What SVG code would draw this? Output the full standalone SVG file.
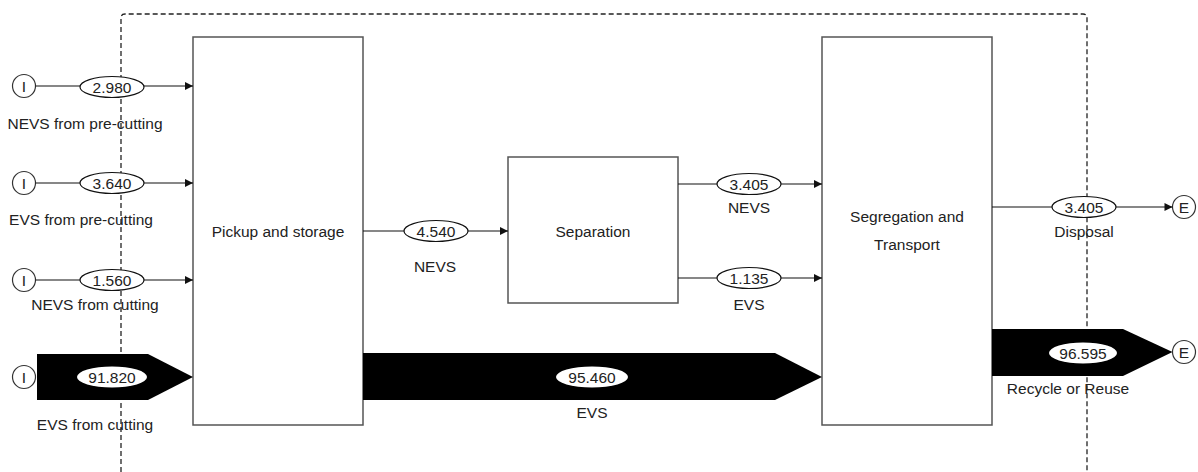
<svg xmlns="http://www.w3.org/2000/svg" width="1198" height="472" viewBox="0 0 1198 472">
<style>
text{font-family:"Liberation Sans",Arial,sans-serif;font-size:15.5px;fill:#222;text-anchor:middle}
.box{fill:#fff;stroke:#555;stroke-width:1.5}
.ln{stroke:#111;stroke-width:1.2;fill:none}
.lab{fill:#fff;stroke:#111;stroke-width:1.2}
.wlab{fill:#fff;stroke:none}
.term{fill:#fff;stroke:#333;stroke-width:1.2}
.big{fill:#000}
.border{fill:none;stroke:#222;stroke-width:1.3;stroke-dasharray:5 3}
</style>
<defs>
<marker id="ah" viewBox="0 0 10 10" refX="10" refY="5" markerWidth="10" markerHeight="8" markerUnits="userSpaceOnUse" orient="auto">
<path d="M0,0 L10,5 L0,10 z" fill="#111"/>
</marker>
</defs>
<path class="border" d="M121,472 V18 Q121,14 125,14 H1083 Q1087,14 1087,18 V472"/>
<g id="pickup"><rect class="box" x="193" y="37" width="170" height="388"/><text x="278" y="237">Pickup and storage</text></g>
<g id="separation"><rect class="box" x="508" y="157" width="170" height="146"/><text x="593" y="237">Separation</text></g>
<g id="segregation"><rect class="box" x="822" y="37" width="170" height="388"/><text x="907" y="222">Segregation and</text><text x="907" y="250">Transport</text></g>
<g id="in1"><circle class="term" cx="24" cy="86" r="11.5"/><text x="24" y="91.5">I</text></g>
<g id="in2"><circle class="term" cx="24" cy="183" r="11.5"/><text x="24" y="188.5">I</text></g>
<g id="in3"><circle class="term" cx="24" cy="280" r="11.5"/><text x="24" y="285.5">I</text></g>
<g id="in4"><circle class="term" cx="24" cy="377" r="11.5"/><text x="24" y="382.5">I</text></g>
<g id="out1"><circle class="term" cx="1184" cy="207" r="11.5"/><text x="1184" y="212.5">E</text></g>
<g id="out2"><circle class="term" cx="1184" cy="352" r="11.5"/><text x="1184" y="357.5">E</text></g>
<g id="connectors">
<line class="ln" x1="35.5" y1="86" x2="193" y2="86" marker-end="url(#ah)"/>
<ellipse class="lab" cx="112" cy="87" rx="32" ry="10.5"/><text x="112" y="92.5">2.980</text>
<text x="85" y="129">NEVS from pre-cutting</text>
<line class="ln" x1="35.5" y1="183" x2="193" y2="183" marker-end="url(#ah)"/>
<ellipse class="lab" cx="112" cy="183" rx="32" ry="10.5"/><text x="112" y="188.5">3.640</text>
<text x="81" y="225">EVS from pre-cutting</text>
<line class="ln" x1="35.5" y1="280" x2="193" y2="280" marker-end="url(#ah)"/>
<ellipse class="lab" cx="112" cy="280" rx="32" ry="10.5"/><text x="112" y="285.5">1.560</text>
<text x="95" y="310">NEVS from cutting</text>
<path class="big" d="M37,354 H148 L193,377 L148,400 H37 z"/>
<ellipse class="wlab" cx="112" cy="377" rx="35" ry="10.5"/><text x="112" y="382.5">91.820</text>
<text x="95" y="430">EVS from cutting</text>
<line class="ln" x1="363" y1="231" x2="508" y2="231" marker-end="url(#ah)"/>
<ellipse class="lab" cx="436" cy="231" rx="32" ry="10.5"/><text x="436" y="236.5">4.540</text>
<text x="435" y="272">NEVS</text>
<line class="ln" x1="678" y1="184" x2="822" y2="184" marker-end="url(#ah)"/>
<ellipse class="lab" cx="749" cy="184" rx="32" ry="10.5"/><text x="749" y="189.5">3.405</text>
<text x="749" y="213">NEVS</text>
<line class="ln" x1="678" y1="278" x2="822" y2="278" marker-end="url(#ah)"/>
<ellipse class="lab" cx="749" cy="278" rx="32" ry="10.5"/><text x="749" y="283.5">1.135</text>
<text x="749" y="310">EVS</text>
<path class="big" d="M363,353 H775 L822,377 L775,400 H363 z"/>
<ellipse class="wlab" cx="592" cy="377" rx="36" ry="10.5"/><text x="592" y="382.5">95.460</text>
<text x="592" y="418">EVS</text>
<line class="ln" x1="992" y1="207" x2="1172.5" y2="207" marker-end="url(#ah)"/>
<ellipse class="lab" cx="1084" cy="207" rx="32" ry="10.5"/><text x="1084" y="212.5">3.405</text>
<text x="1084" y="237">Disposal</text>
<path class="big" d="M992,329 H1123 L1172.5,352 L1123,376 H992 z"/>
<ellipse class="wlab" cx="1083" cy="353" rx="34" ry="10.5"/><text x="1083" y="358.5">96.595</text>
<text x="1068" y="394">Recycle or Reuse</text>
</g>
</svg>
